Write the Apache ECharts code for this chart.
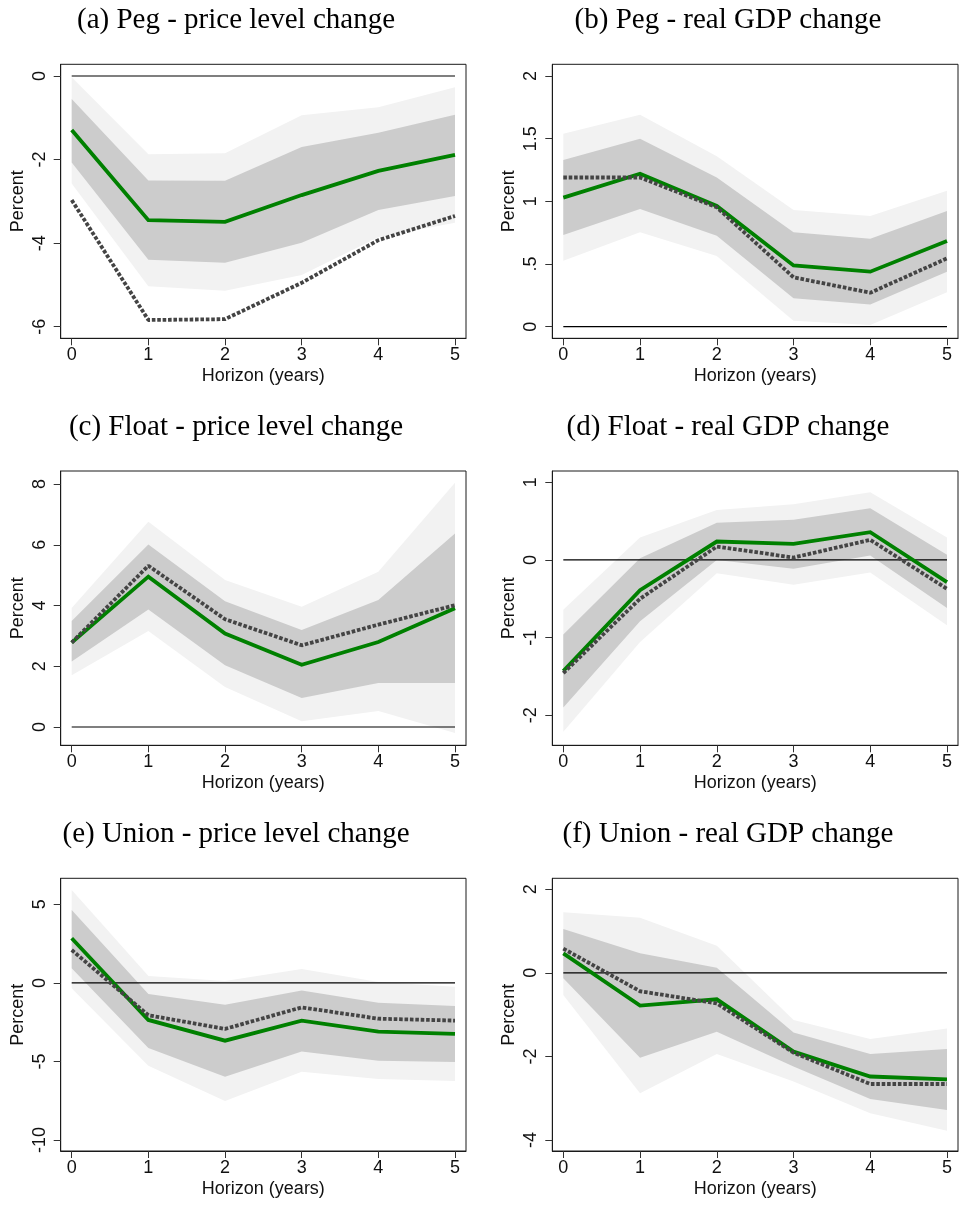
<!DOCTYPE html>
<html>
<head>
<meta charset="utf-8">
<script src="https://cdn.jsdelivr.net/npm/echarts@6/dist/echarts.min.js"></script>
<style>html,body{margin:0;padding:0;background:#fff}#c{width:961px;height:1205px}</style>
</head>
<body>
<div id="c"></div>
<script>
// ---- shared ----
const horizon = [0, 1, 2, 3, 4, 5];
const xTicks = [0, 1, 2, 3, 4, 5];
const titles = ['(a) Peg - price level change', '(b) Peg - real GDP change',
  '(c) Float - price level change', '(d) Float - real GDP change',
  '(e) Union - price level change', '(f) Union - real GDP change'];
const xName = 'Horizon (years)';
const yName = 'Percent';

// ---- (a) Peg - price level ----
const aGreen   = [-1.29, -3.45, -3.49, -2.85, -2.27, -1.89];
const aDashed  = [-2.97, -5.84, -5.82, -4.95, -3.93, -3.35];
const aDarkHi  = [-0.55, -2.50, -2.51, -1.70, -1.36, -0.93];
const aDarkLo  = [-2.07, -4.40, -4.47, -3.99, -3.21, -2.87];
const aLightHi = [-0.03, -1.87, -1.85, -0.94, -0.75, -0.27];
const aLightLo = [-2.57, -5.03, -5.14, -4.76, -3.86, -3.51];
const aTicks   = [-6, -4, -2, 0];

// ---- (b) Peg - real GDP ----
const bGreen   = [1.03, 1.22, 0.963, 0.489, 0.439, 0.684];
const bDashed  = [1.19, 1.19, 0.952, 0.394, 0.271, 0.545];
const bDarkHi  = [1.33, 1.50, 1.19, 0.753, 0.702, 0.923];
const bDarkLo  = [0.731, 0.939, 0.726, 0.226, 0.178, 0.439];
const bLightHi = [1.54, 1.69, 1.36, 0.931, 0.883, 1.085];
const bLightLo = [0.527, 0.753, 0.564, 0.048, 0.013, 0.274];
const bTicks   = [0, 0.5, 1, 1.5, 2];

// ---- (c) Float - price level ----
const cGreen   = [2.78, 4.95, 3.08, 2.05, 2.80, 3.91];
const cDashed  = [2.78, 5.31, 3.55, 2.69, 3.37, 4.01];
const cDarkHi  = [3.49, 6.01, 4.14, 3.19, 4.18, 6.37];
const cDarkLo  = [2.16, 3.87, 2.03, 0.956, 1.45, 1.45];
const cLightHi = [3.92, 6.76, 4.84, 3.96, 5.11, 8.04];
const cLightLo = [1.70, 3.16, 1.32, 0.19, 0.53, -0.20];
const cTicks   = [0, 2, 4, 6, 8];

// ---- (d) Float - real GDP ----
const dGreen   = [-1.43, -0.39, 0.237, 0.207, 0.357, -0.286];
const dDashed  = [-1.456, -0.50, 0.172, 0.031, 0.259, -0.372];
const dDarkHi  = [-0.96, 0.023, 0.48, 0.516, 0.666, 0.066];
const dDarkLo  = [-1.90, -0.79, 0.00, -0.114, 0.057, -0.62];
const dLightHi = [-0.64, 0.288, 0.644, 0.717, 0.871, 0.288];
const dLightLo = [-2.21, -1.057, -0.17, -0.32, -0.16, -0.84];
const dTicks   = [-2, -1, 0, 1];

// ---- (e) Union - price level ----
const eGreen   = [2.84, -2.36, -3.68, -2.40, -3.10, -3.25];
const eDashed  = [2.09, -2.06, -2.93, -1.56, -2.28, -2.40];
const eDarkHi  = [4.64, -0.71, -1.39, -0.49, -1.26, -1.47];
const eDarkLo  = [0.93, -4.14, -5.97, -4.36, -4.95, -5.04];
const eLightHi = [5.91, 0.44, 0.12, 0.88, 0.06, -0.24];
const eLightLo = [-0.35, -5.27, -7.52, -5.65, -6.11, -6.24];
const eTicks   = [-10, -5, 0, 5];

// ---- (f) Union - real GDP ----
const fGreen   = [0.468, -0.784, -0.633, -1.886, -2.48, -2.55];
const fDashed  = [0.58, -0.44, -0.73, -1.91, -2.66, -2.66];
const fDarkHi  = [1.05, 0.468, 0.125, -1.43, -1.94, -1.82];
const fDarkLo  = [-0.13, -2.03, -1.41, -2.24, -3.02, -3.28];
const fLightHi = [1.45, 1.32, 0.65, -1.13, -1.58, -1.33];
const fLightLo = [-0.53, -2.88, -1.94, -2.60, -3.36, -3.78];
const fTicks   = [-4, -2, 0, 2];

const panels = [
  {g: aGreen, d: aDashed, dh: aDarkHi, dl: aDarkLo, lh: aLightHi, ll: aLightLo, ticks: aTicks, ymin: -6.278, ymax: 0.28},
  {g: bGreen, d: bDashed, dh: bDarkHi, dl: bDarkLo, lh: bLightHi, ll: bLightLo, ticks: bTicks, ymin: -0.0925, ymax: 2.093},
  {g: cGreen, d: cDashed, dh: cDarkHi, dl: cDarkLo, lh: cLightHi, ll: cLightLo, ticks: cTicks, ymin: -0.603, ymax: 8.43},
  {g: dGreen, d: dDashed, dh: dDarkHi, dl: dDarkLo, lh: dLightHi, ll: dLightLo, ticks: dTicks, ymin: -2.386, ymax: 1.145},
  {g: eGreen, d: eDashed, dh: eDarkHi, dl: eDarkLo, lh: eLightHi, ll: eLightLo, ticks: eTicks, ymin: -10.70, ymax: 6.655},
  {g: fGreen, d: fDashed, dh: fDarkHi, dl: fDarkLo, lh: fLightHi, ll: fLightLo, ticks: fTicks, ymin: -4.263, ymax: 2.263}
];

// layout (pixels)
const colLeft = [60.7, 552.3];
const colWidth = [405.3, 405.7];
const rowTop = [64.3, 471, 878.3];
const rowHeight = [274, 274.3, 272.7];
const titleCenter = [236, 728];

const pairs = ys => horizon.map((x, i) => [x, ys[i]]);
const bandData = (lo, hi) => horizon.map((x, i) => [x, lo[i], hi[i]]);
const fmt = v => String(v).replace(/^0\./, '.').replace(/^-0\./, '-.');

// one polygon per band, built from all band points through the axis scales
function bandRender(color) {
  return function (params, api) {
    if (params.dataIndexInside !== 0) return null;
    const n = params.dataInsideLength;
    const upper = [], lower = [];
    for (let j = 0; j < n; j++) {
      upper.push(api.coord([api.value(0, j), api.value(2, j)]));
      lower.push(api.coord([api.value(0, j), api.value(1, j)]));
    }
    return {type: 'polygon', shape: {points: upper.concat(lower.reverse())},
      style: {fill: color, stroke: null}, silent: true};
  };
}

const grid = [], xAxis = [], yAxis = [], series = [], title = [];
const sans = 'Liberation Sans';
const axisLineStyle = {show: true, onZero: false, lineStyle: {color: '#1a1a1a', width: 1}};

panels.forEach((p, k) => {
  const col = k % 2, row = Math.floor(k / 2);
  grid.push({left: colLeft[col], top: rowTop[row], width: colWidth[col], height: rowHeight[row],
    show: true, borderColor: '#1a1a1a', borderWidth: 1, backgroundColor: '#fff', containLabel: false});
  title.push({text: titles[k], left: titleCenter[col], textAlign: 'center', top: rowTop[row] - 58, padding: 0,
    textStyle: {fontFamily: 'Liberation Serif', fontSize: 29, fontWeight: 'normal', color: '#000'}});
  xAxis.push({type: 'value', gridIndex: k, min: -0.1435, max: 5.1435, position: 'bottom',
    name: xName, nameLocation: 'middle', nameGap: 29,
    nameTextStyle: {fontFamily: sans, fontSize: 18, color: '#111'},
    axisLine: axisLineStyle, splitLine: {show: false},
    axisTick: {show: true, inside: false, customValues: xTicks, length: 7, lineStyle: {color: '#333', width: 1}},
    axisLabel: {customValues: xTicks, margin: 8, fontFamily: sans, fontSize: 18, color: '#111'}});
  yAxis.push({type: 'value', gridIndex: k, min: p.ymin, max: p.ymax, position: 'left',
    name: yName, nameLocation: 'middle', nameGap: 34,
    nameTextStyle: {fontFamily: sans, fontSize: 18, color: '#111'},
    axisLine: axisLineStyle, splitLine: {show: false},
    axisTick: {show: true, inside: false, customValues: p.ticks, length: 7, lineStyle: {color: '#333', width: 1}},
    axisLabel: {customValues: p.ticks, rotate: 90, margin: 12, fontFamily: sans, fontSize: 18, color: '#111', formatter: fmt}});
  const base = {xAxisIndex: k, yAxisIndex: k, silent: true, animation: false};
  series.push(Object.assign({}, base, {type: 'custom', data: bandData(p.ll, p.lh),
    encode: {x: 0, y: [1, 2]}, renderItem: bandRender('#f2f2f2'), z: 1}));
  series.push(Object.assign({}, base, {type: 'custom', data: bandData(p.dl, p.dh),
    encode: {x: 0, y: [1, 2]}, renderItem: bandRender('#cccccc'), z: 2}));
  series.push(Object.assign({}, base, {type: 'line', symbol: 'none', z: 3,
    data: [[horizon[0], 0], [horizon[horizon.length - 1], 0]], lineStyle: {color: '#000', width: 1.2}}));
  series.push(Object.assign({}, base, {type: 'line', symbol: 'none', z: 4,
    data: pairs(p.g), lineStyle: {color: '#008000', width: 3.8, join: 'miter'}}));
  series.push(Object.assign({}, base, {type: 'line', symbol: 'none', z: 5,
    data: pairs(p.d), lineStyle: {color: '#444444', width: 3.8, type: [3.6, 1.8], cap: 'butt'}}));
});

const chart = echarts.init(document.getElementById('c'), null, {renderer: 'canvas'});
chart.setOption({animation: false, backgroundColor: '#fff', title, grid, xAxis, yAxis, series});
</script>
</body>
</html>
